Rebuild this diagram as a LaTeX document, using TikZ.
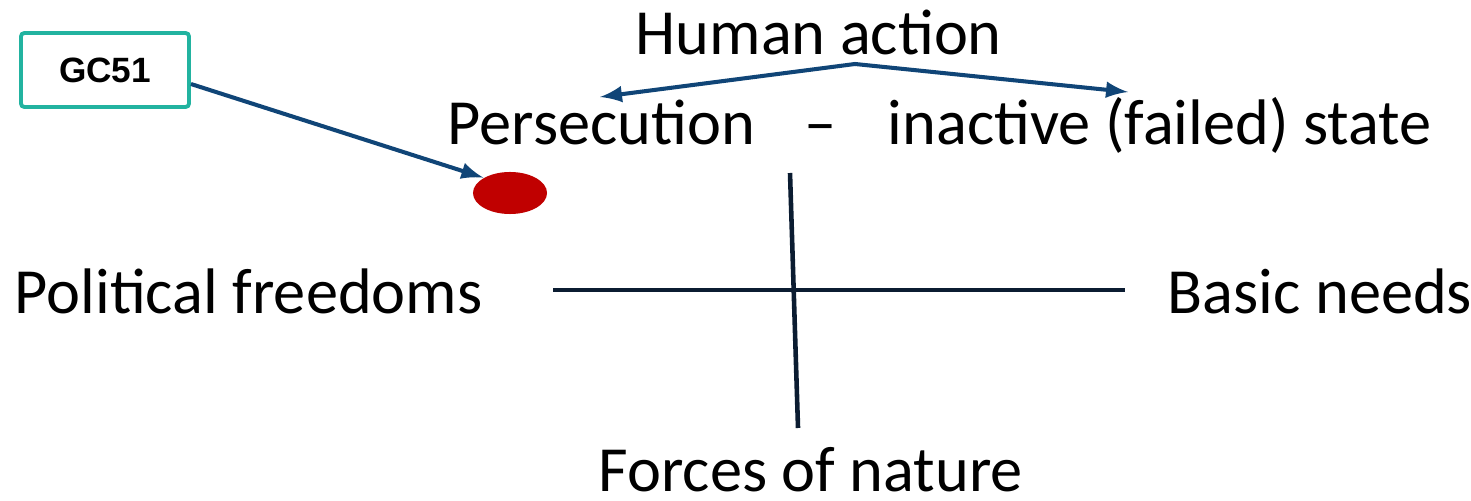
\documentclass[tikz,border=0pt]{standalone}
\usepackage{fontspec}
\setmainfont{Carlito}
\newfontfamily\boxfont{Liberation Sans}
\usetikzlibrary{shapes.geometric}
\definecolor{arrowblue}{HTML}{104577}
\definecolor{crossnavy}{HTML}{0B1C31}
\definecolor{boxteal}{HTML}{22B3A0}
\definecolor{dotred}{HTML}{C00000}
\begin{document}
\begin{tikzpicture}[x = 0.01cm, y = 0.01cm,
        lbl/.style = {anchor = base west, inner sep = 0pt, font = \fontsize{18.3}{22}\selectfont},
        conn/.style = {draw = arrowblue, line width = 1.15pt, -latex},
        axis/.style = {draw = crossnavy, line width = 1.3pt}]
        \useasboundingbox (0, 0) rectangle (1471, 500);
        \node[lbl] (human) at (635, 445) {Human action};
        \node[lbl] (persec) at (447, 355) {Persecution};
        \node[lbl] (dash) at (804, 355) {--};
        \node[lbl] (inactive) at (887, 355) {inactive (failed) state};
        \node[lbl] (political) at (14, 187) {Political freedoms};
        \node[lbl] (basic) at (1167, 187) {Basic needs};
        \node[lbl] (forces) at (598, 9) {Forces of nature};
        \node[draw = boxteal, line width = 1.1pt, rounded corners = 1pt, minimum width = 1.68cm, minimum height = 0.74cm,
            font = \boxfont\bfseries\fontsize{10}{12}\selectfont] (gc) at (105, 430) {GC51};
        \node[ellipse, fill = dotred, minimum width = 0.74cm, minimum height = 0.42cm, inner sep = 0pt] (dot) at (510, 307) {};
        \coordinate (split) at (855, 436);
        \coordinate (persectip) at (600, 403);
        \coordinate (inactivetip) at (1128, 408);
        \coordinate (up) at (790, 327);
        \coordinate (down) at (798, 72);
        \coordinate (left) at (553, 210);
        \coordinate (right) at (1125, 210);
        % arrows from the top label
        \draw[conn] (split) -- (persectip);
        \draw[conn] (split) -- (inactivetip);
        \draw[conn] ([yshift = -0.14cm]gc.east) -- (dot.north west);
        % the cross
        \draw[axis] (left) -- (right);
        \draw[axis] (up) -- (down);
    \end{tikzpicture}
\end{document}
